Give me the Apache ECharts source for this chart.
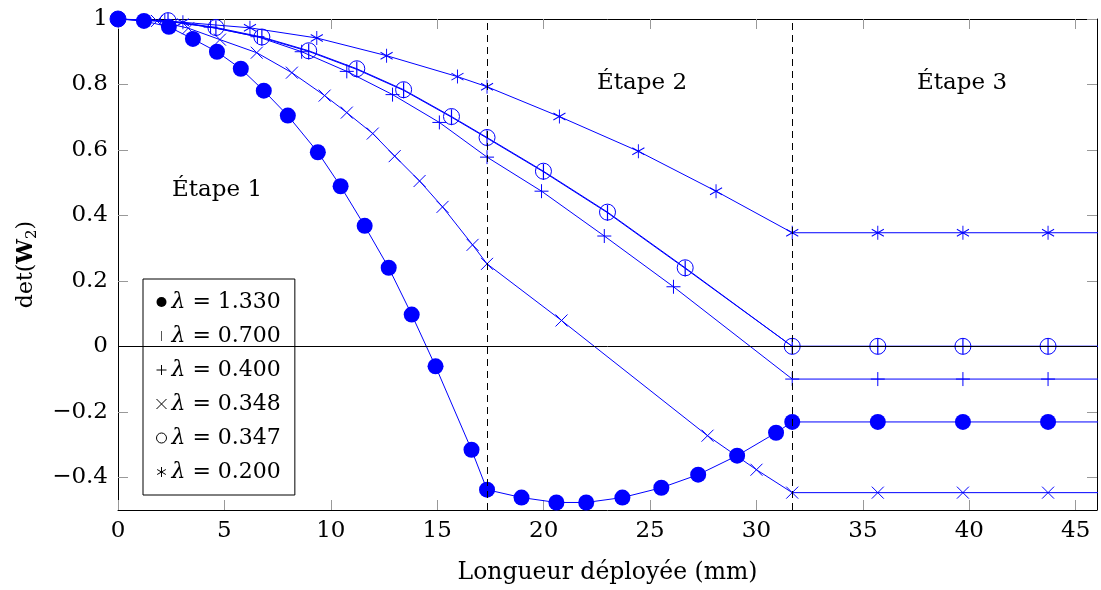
<!DOCTYPE html>
<html><head><meta charset="utf-8">
<script src="https://cdn.jsdelivr.net/npm/echarts@6/dist/echarts.min.js"></script>
<style>html,body{margin:0;padding:0;background:#fff}#c{width:1101px;height:590px}</style>
</head><body><div id="c"></div>
<script>
// ---- data ----
const xTicks = [0, 5, 10, 15, 20, 25, 30, 35, 40, 45];
const yTicks = [-0.4, -0.2, 0, 0.2, 0.4, 0.6, 0.8, 1];
const stageBounds = [17.34, 31.68];
const stageLabels = ['Étape 1', 'Étape 2', 'Étape 3'];
const seriesNames = ['λ = 1.330', 'λ = 0.700', 'λ = 0.400', 'λ = 0.348', 'λ = 0.347', 'λ = 0.200'];

const x1330 = [0, 1.22, 2.39, 3.52, 4.65, 5.77, 6.85, 7.98, 9.39, 10.46, 11.59, 12.72, 13.8, 14.92, 16.61, 17.34, 18.96, 20.6, 22.0, 23.7, 25.53, 27.26, 29.09, 30.92, 31.68, 35.7, 39.7, 43.7, 47.7];
const y1330 = [1, 0.994, 0.976, 0.939, 0.9, 0.848, 0.781, 0.705, 0.593, 0.489, 0.368, 0.24, 0.097, -0.061, -0.316, -0.438, -0.462, -0.477, -0.477, -0.462, -0.432, -0.392, -0.334, -0.264, -0.231, -0.231, -0.231, -0.231, -0.231];

const x0700 = [0, 2.35, 4.6, 6.76, 8.96, 11.22, 13.42, 15.67, 17.34, 19.99, 23.0, 26.65, 31.68, 35.7, 39.7, 43.7, 47.7];
const y0700 = [1, 0.994, 0.972, 0.943, 0.901, 0.846, 0.782, 0.700, 0.636, 0.533, 0.408, 0.238, 0, 0, 0, 0, 0];

const x0400 = [0, 2.2, 4.35, 6.55, 8.63, 10.75, 12.9, 15.1, 17.34, 19.9, 22.85, 26.1, 31.68, 35.7, 39.7, 43.7, 47.7];
const y0400 = [1, 0.994, 0.975, 0.946, 0.9, 0.84, 0.769, 0.684, 0.578, 0.474, 0.337, 0.182, -0.1, -0.1, -0.1, -0.1, -0.1];

const x0348 = [0, 1.83, 3.3, 4.79, 6.52, 8.17, 9.71, 10.75, 11.97, 13.0, 14.17, 15.25, 16.66, 17.34, 20.84, 27.7, 30.0, 31.68, 35.7, 39.7, 43.7, 47.7];
const y0348 = [1, 0.994, 0.972, 0.937, 0.897, 0.836, 0.766, 0.714, 0.650, 0.581, 0.505, 0.426, 0.31, 0.252, 0.079, -0.273, -0.377, -0.447, -0.447, -0.447, -0.447, -0.447];

const x0347 = [0, 2.35, 4.6, 6.76, 8.96, 11.22, 13.42, 15.67, 17.34, 19.99, 23.0, 26.65, 31.68, 35.7, 39.7, 43.7, 47.7];
const y0347 = [1, 0.995, 0.974, 0.945, 0.903, 0.848, 0.784, 0.702, 0.638, 0.535, 0.41, 0.24, 0, 0, 0, 0, 0];

const x0200 = [0, 3.05, 6.2, 9.34, 12.62, 15.95, 17.34, 20.74, 24.45, 28.1, 31.68, 35.7, 39.7, 43.7, 47.7];
const y0200 = [1, 0.99, 0.973, 0.942, 0.888, 0.824, 0.793, 0.702, 0.596, 0.474, 0.347, 0.347, 0.347, 0.347, 0.347];

// ---- chart ----
const FONT = 'DejaVu Serif';
const BLUE = '#0000ff';
const pts = (xs, ys) => xs.map((x, i) => [x, ys[i]]);

const symbols = {
  star: 'path://M5,0L5,10M0.67,2.5L9.33,7.5M0.67,7.5L9.33,2.5',
  cross: 'path://M0,0L10,10M0,10L10,0',
  plus: 'path://M0,5L10,5M5,0L5,10',
  bar: 'path://M5,0L5,10M0,0M10,10'
};

const base = (name, data) => ({
  name, type: 'line', data, showSymbol: true, showAllSymbol: true, clip: true,
  silent: true, animation: false, lineStyle: { color: BLUE, width: 1 }
});

const series = [
  Object.assign(base(seriesNames[0], pts(x1330, y1330)), {
    symbol: 'circle', symbolSize: 16, itemStyle: { color: BLUE },
    markLine: {
      silent: true, symbol: 'none', animation: false, label: { show: false },
      data: [
        { xAxis: stageBounds[0], lineStyle: { type: [7, 5], color: '#000', width: 1 } },
        { xAxis: stageBounds[1], lineStyle: { type: [7, 5], color: '#000', width: 1 } },
        { yAxis: 0, lineStyle: { type: 'solid', color: '#000', width: 1 } }
      ]
    }
  }),
  Object.assign(base(seriesNames[1], pts(x0700, y0700)), {
    symbol: 'rect', symbolSize: [1.2, 16], itemStyle: { color: BLUE }
  }),
  Object.assign(base(seriesNames[2], pts(x0400, y0400)), {
    symbol: symbols.plus, symbolSize: 14, itemStyle: { color: BLUE, borderColor: BLUE, borderWidth: 1 }
  }),
  Object.assign(base(seriesNames[3], pts(x0348, y0348)), {
    symbol: symbols.cross, symbolSize: 12, itemStyle: { color: BLUE, borderColor: BLUE, borderWidth: 1 }
  }),
  Object.assign(base(seriesNames[4], pts(x0347, y0347)), {
    symbol: 'circle', symbolSize: 16, itemStyle: { color: 'rgba(0,0,0,0)', borderColor: BLUE, borderWidth: 1 }
  }),
  Object.assign(base(seriesNames[5], pts(x0200, y0200)), {
    symbol: symbols.star, symbolSize: [12.1, 14], itemStyle: { color: BLUE, borderColor: BLUE, borderWidth: 1 }
  })
];

const legendIcons = [
  { icon: 'circle', itemStyle: { color: '#000', borderColor: '#000', borderWidth: 0 } },
  { icon: symbols.bar, itemStyle: { color: '#000', borderColor: '#555', borderWidth: 1 } },
  { icon: symbols.plus, itemStyle: { color: '#000', borderColor: '#000', borderWidth: 1 } },
  { icon: symbols.cross, itemStyle: { color: '#000', borderColor: '#000', borderWidth: 1 } },
  { icon: 'circle', itemStyle: { color: 'rgba(0,0,0,0)', borderColor: '#000', borderWidth: 1 } },
  { icon: symbols.star, itemStyle: { color: '#000', borderColor: '#000', borderWidth: 1 } }
];

const fmtY = v => { const r = Math.round(v * 10) / 10; return r < 0 ? '\u2212' + Math.abs(r) : String(r); };

const tickStyle = { color: '#999', width: 1 };
const lineAxis = { show: true, onZero: false, lineStyle: { color: '#000', width: 1 } };

const chart = echarts.init(document.getElementById('c'), null, { renderer: 'canvas' });
chart.setOption({
  animation: false,
  backgroundColor: '#fff',
  grid: { left: 118, right: 4, top: 19, bottom: 78, containLabel: false },
  xAxis: [
    {
      type: 'value', min: 0, max: 46, position: 'bottom',
      axisLine: lineAxis,
      axisTick: { show: true, inside: true, length: 10, customValues: xTicks, lineStyle: tickStyle },
      axisLabel: { customValues: xTicks, fontFamily: FONT, fontSize: 23, color: '#000', margin: 10 },
      splitLine: { show: false },
      name: 'Longueur déployée (mm)', nameLocation: 'middle', nameGap: 51,
      nameTextStyle: { fontFamily: FONT, fontSize: 23.5, color: '#000' }
    },
    {
      type: 'value', min: 0, max: 46, position: 'top',
      axisLine: lineAxis,
      axisTick: { show: true, inside: true, length: 10, customValues: xTicks, lineStyle: tickStyle },
      axisLabel: { show: false }, splitLine: { show: false }
    }
  ],
  yAxis: [
    {
      type: 'value', min: -0.5, max: 1, position: 'left',
      axisLine: lineAxis,
      axisTick: { show: true, inside: true, length: 10, customValues: yTicks, lineStyle: tickStyle },
      axisLabel: { customValues: yTicks, formatter: fmtY, fontFamily: FONT, fontSize: 23, color: '#000', margin: 10 },
      splitLine: { show: false },
      name: '{a|det(}{b|W}{c|2}{a|)}', nameLocation: 'middle', nameGap: 68, nameRotate: 90,
      nameTextStyle: {
        fontFamily: FONT, fontSize: 22, color: '#000',
        rich: {
          a: { fontFamily: FONT, fontSize: 22, color: '#000', lineHeight: 30, verticalAlign: 'middle' },
          b: { fontFamily: FONT, fontSize: 22, fontWeight: 'bold', color: '#000', lineHeight: 30, verticalAlign: 'middle' },
          c: { fontFamily: FONT, fontSize: 15, color: '#000', lineHeight: 30, verticalAlign: 'bottom', padding: [0, 0, 2, 0] }
        }
      }
    },
    {
      type: 'value', min: -0.5, max: 1, position: 'right',
      axisLine: lineAxis,
      axisTick: { show: true, inside: true, length: 10, customValues: yTicks, lineStyle: tickStyle },
      axisLabel: { show: false }, splitLine: { show: false }
    }
  ],
  legend: {
    orient: 'vertical', left: 143, top: 279, padding: [11, 14, 11, 13],
    itemGap: 10, itemWidth: 10, itemHeight: 10,
    borderColor: '#000', borderWidth: 1, borderRadius: 0, backgroundColor: '#fff',
    selectedMode: false,
    data: seriesNames.map((n, i) => Object.assign({ name: n }, legendIcons[i])),
    formatter: n => '{l|λ}{t|' + n.slice(1) + '}',
    textStyle: {
      fontFamily: FONT, fontSize: 22, color: '#000', lineHeight: 24,
      rich: {
        l: { fontFamily: FONT, fontSize: 22, fontStyle: 'italic', color: '#000', lineHeight: 24 },
        t: { fontFamily: FONT, fontSize: 22, color: '#000', lineHeight: 24 }
      }
    }
  },
  graphic: [
    { type: 'text', x: 217, y: 190, silent: true, style: { text: stageLabels[0], font: '23px "DejaVu Serif"', fill: '#000', align: 'center', verticalAlign: 'middle' } },
    { type: 'text', x: 642, y: 83, silent: true, style: { text: stageLabels[1], font: '23px "DejaVu Serif"', fill: '#000', align: 'center', verticalAlign: 'middle' } },
    { type: 'text', x: 962, y: 83, silent: true, style: { text: stageLabels[2], font: '23px "DejaVu Serif"', fill: '#000', align: 'center', verticalAlign: 'middle' } }
  ],
  series
});
</script>
</body></html>
